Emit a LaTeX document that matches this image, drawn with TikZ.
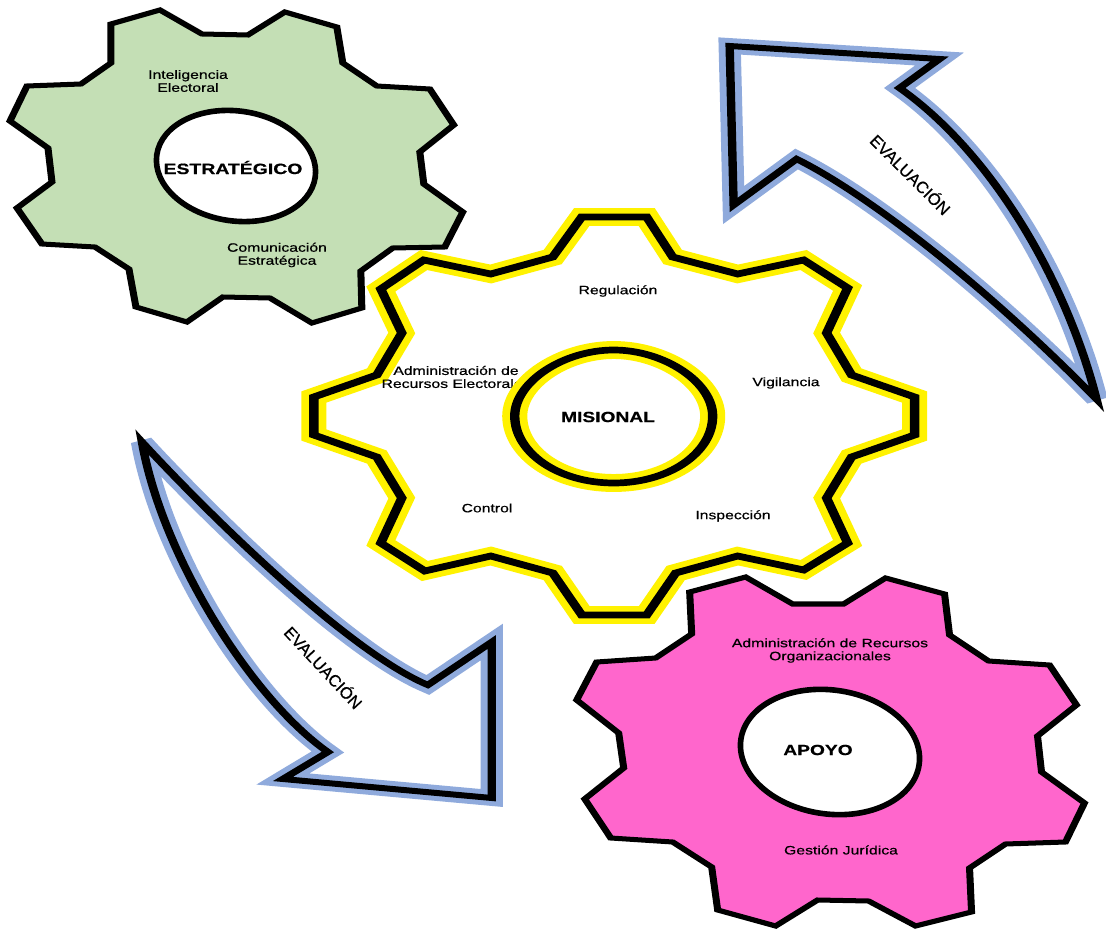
\documentclass[tikz,border=0pt]{standalone}
\usepackage{fontspec}
\usepackage{tikz}
\newfontfamily\gearfont[FakeStretch=1.3, FakeBold=0.6]{Liberation Sans}
\newfontfamily\gearboldfont[FakeStretch=1.3, FakeBold=0.5]{Liberation Sans Bold}
\newfontfamily\arrowfont[FakeBold=0.6]{Liberation Sans}
\definecolor{gearGreen}{HTML}{C4DFB5}
\definecolor{gearPink}{HTML}{FF66CC}
\definecolor{arrowBlue}{HTML}{8FAADC}
\tikzset{squeezed/.style = {transform canvas={xscale=1.4}, x=0.0142857cm}}
\tikzset{gearline/.style = {draw, line width=2.85pt, line join=miter}}
\tikzset{holeline/.style = {draw, fill=white, line width=3.2pt}}
\tikzset{misline/.style = {draw, line width=3.8pt, line join=miter,
                           preaction={fill=white},
                           preaction={draw=yellow, line width=10.2pt}}}
\tikzset{arrowline/.style = {draw, line width=3.4pt, line join=miter,
                             preaction={fill=white},
                             preaction={draw=arrowBlue, line width=9pt, miter limit=3.5}}}
\tikzset{small/.style = {align=center, inner sep=0,
                         font=\gearfont\fontsize{6.9}{7.4}\selectfont}}
\tikzset{title/.style = {inner sep=0, font=\gearboldfont\fontsize{8.5}{9}\selectfont}}
\tikzset{eval/.style = {inner sep=0, font=\arrowfont\fontsize{9.4}{10}\selectfont}}

\begin{document}
\begin{tikzpicture}[x=0.02cm, y=-0.02cm]
      \useasboundingbox (0, 0) rectangle (1106, 929);
      \begin{scope}[squeezed]
      \draw [gearline, fill=gearGreen] (160, 10) -- (202, 34) -- (248, 35) -- (285, 12) -- (337, 27)
        -- (343, 63) -- (377, 86) -- (430, 89) -- (454, 125) -- (420, 152) -- (424, 184)
        -- (463, 212) -- (445, 247) -- (393, 248) -- (361, 271) -- (362, 308) -- (312, 323)
        -- (270, 298) -- (223, 297) -- (187, 322) -- (136, 307) -- (129, 269) -- (95, 247)
        -- (42, 244) -- (17, 208) -- (52, 182) -- (48, 148) -- (10, 121) -- (27, 86)
        -- (81, 84) -- (111, 63) -- (111, 24) -- cycle;
      \draw [gearline, fill=gearPink] (746, 577) -- (793, 604) -- (844, 604) -- (886, 578) -- (945, 594)
        -- (950, 635) -- (989, 661) -- (1050, 665) -- (1077, 705) -- (1038, 736) -- (1042, 772)
        -- (1085, 803) -- (1066, 842) -- (1006, 844) -- (970, 868) -- (972, 912) -- (916, 926)
        -- (869, 901) -- (818, 900) -- (776, 926) -- (718, 910) -- (712, 867) -- (673, 842)
        -- (611, 838) -- (585, 799) -- (624, 768) -- (619, 733) -- (577, 700) -- (597, 662)
        -- (656, 658) -- (692, 634) -- (690, 592) -- cycle;
      \draw [misline] (582, 217) -- (647, 217) -- (673, 257) -- (738, 274) -- (804, 260) -- (848, 288)
        -- (827, 333) -- (852, 375) -- (915, 397) -- (915, 435) -- (852, 457) -- (827, 498)
        -- (848, 543) -- (804, 570) -- (738, 556) -- (676, 573) -- (647, 615) -- (582, 615)
        -- (553, 573) -- (491, 556) -- (425, 571) -- (381, 543) -- (402, 498) -- (377, 457)
        -- (314, 435) -- (314, 397) -- (377, 375) -- (402, 333) -- (381, 289) -- (424, 260)
        -- (491, 274) -- (553, 257) -- cycle;
      \draw [arrowline] (730, 46) -- (940, 59) -- (900, 88)
        .. controls (995, 155) and (1068, 285) .. (1097, 399)
        .. controls (975, 275) and (860, 190) .. (797, 159)
        -- (734, 205) -- cycle;
      \draw [arrowline] (142, 442) .. controls (200, 505) and (345, 650) .. (428, 685)
        -- (492, 642) -- (492, 798) -- (283, 779) -- (328, 752)
        .. controls (250, 697) and (162, 555) .. cycle;
      \end{scope}

      \draw [holeline] (236, 166) ellipse [x radius=80, y radius=55, rotate=-8];
      \draw [holeline] (830, 752) ellipse [x radius=90, y radius=62, rotate=-8];
      \node [small] (electorales) at (456, 377) {Administración de\\Recursos Electorales};
      \begin{scope}[squeezed]
      \draw [misline] (515, 416) .. controls (515, 382) and (564, 350) .. (614, 350)
        .. controls (664, 350) and (713, 382) .. (713, 416)
        .. controls (713, 453) and (669, 483) .. (614, 483)
        .. controls (559, 483) and (515, 453) .. cycle;
      \end{scope}

      \node [title] (estrategico) at (233, 167.5) {ESTRATÉGICO};
      \node [small] (inteligencia) at (188, 81) {Inteligencia\\Electoral};
      \node [small] (comunicacion) at (277, 255) {Comunicación\\Estratégica};
      \node [title, font=\gearboldfont\fontsize{8.4}{9}\selectfont] (apoyo) at (818, 750) {APOYO};
      \node [small] (organizacionales) at (830, 650.5) {Administración de Recursos\\Organizacionales};
      \node [small] (juridica) at (841, 850) {Gestión Jurídica};
      \node [title, font=\gearboldfont\fontsize{8.4}{9}\selectfont] (misional) at (608, 417) {MISIONAL};
      \node [small] (regulacion) at (618, 291) {Regulación};
      \node [small] (vigilancia) at (786, 383) {Vigilancia};
      \node [small] (control) at (487, 508) {Control};
      \node [small] (inspeccion) at (733, 516) {Inspección};
      \node [eval, rotate=-45] (evalup) at (911, 174) {EVALUACIÓN};
      \node [eval, rotate=-47] (evaldown) at (324, 667) {EVALUACIÓN};
    \end{tikzpicture}
\end{document}
